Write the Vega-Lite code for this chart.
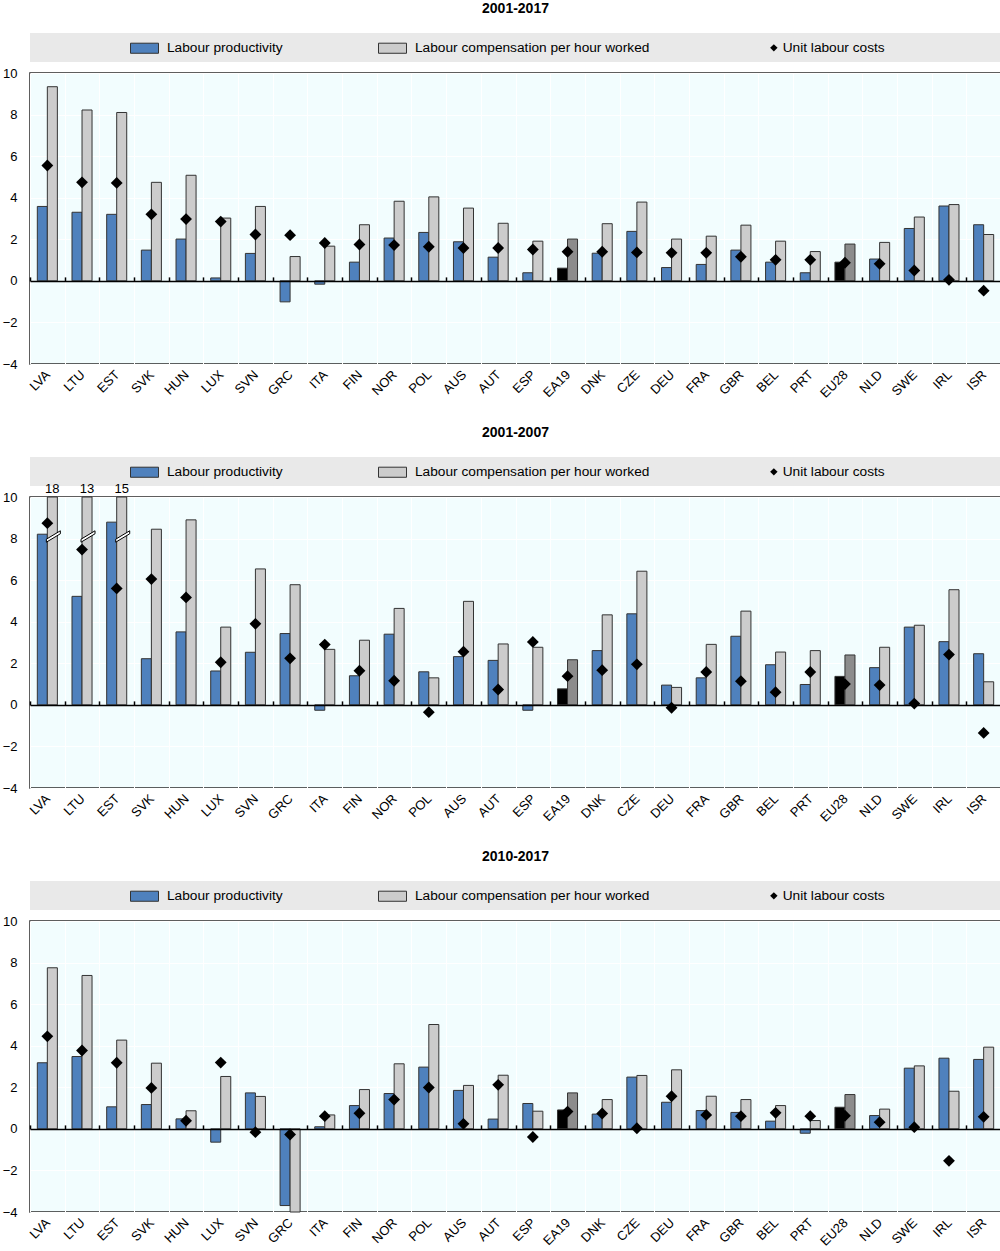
{
  "$schema": "https://vega.github.io/schema/vega-lite/v6.json",
  "padding": {"left": 1, "top": 2, "right": 0, "bottom": 0},
  "background": "#ffffff",
  "datasets": {
    "p1": [
      {"c":"LVA","lp":3.58,"lch":9.34,"ulc":5.55},{"c":"LTU","lp":3.30,"lch":8.22,"ulc":4.74},{"c":"EST","lp":3.20,"lch":8.10,"ulc":4.71},
      {"c":"SVK","lp":1.48,"lch":4.74,"ulc":3.20},{"c":"HUN","lp":2.01,"lch":5.08,"ulc":2.97},{"c":"LUX","lp":0.14,"lch":3.02,"ulc":2.85},
      {"c":"SVN","lp":1.32,"lch":3.58,"ulc":2.23},{"c":"GRC","lp":-1.01,"lch":1.17,"ulc":2.20},{"c":"ITA","lp":-0.16,"lch":1.67,"ulc":1.82},
      {"c":"FIN","lp":0.90,"lch":2.70,"ulc":1.75},{"c":"NOR","lp":2.06,"lch":3.83,"ulc":1.72},{"c":"POL","lp":2.33,"lch":4.04,"ulc":1.64},
      {"c":"AUS","lp":1.88,"lch":3.50,"ulc":1.58},{"c":"AUT","lp":1.14,"lch":2.77,"ulc":1.58},{"c":"ESP","lp":0.39,"lch":1.91,"ulc":1.51},
      {"c":"EA19","lp":0.61,"lch":2.01,"ulc":1.40},{"c":"DNK","lp":1.33,"lch":2.75,"ulc":1.40},{"c":"CZE","lp":2.38,"lch":3.79,"ulc":1.37},
      {"c":"DEU","lp":0.64,"lch":2.01,"ulc":1.35},{"c":"FRA","lp":0.79,"lch":2.15,"ulc":1.35},{"c":"GBR","lp":1.48,"lch":2.68,"ulc":1.16},
      {"c":"BEL","lp":0.90,"lch":1.91,"ulc":1.01},{"c":"PRT","lp":0.39,"lch":1.41,"ulc":1.01},{"c":"EU28","lp":0.90,"lch":1.77,"ulc":0.87},
      {"c":"NLD","lp":1.05,"lch":1.85,"ulc":0.82},{"c":"SWE","lp":2.52,"lch":3.07,"ulc":0.50},{"c":"IRL","lp":3.60,"lch":3.67,"ulc":0.05},
      {"c":"ISR","lp":2.70,"lch":2.23,"ulc":-0.47}
    ],
    "p2": [
      {"c":"LVA","lp":8.21,"lch":18,"ulc":8.74},{"c":"LTU","lp":5.22,"lch":13,"ulc":7.47},{"c":"EST","lp":8.79,"lch":15,"ulc":5.60},
      {"c":"SVK","lp":2.22,"lch":8.45,"ulc":6.05},{"c":"HUN","lp":3.51,"lch":8.90,"ulc":5.17},{"c":"LUX","lp":1.63,"lch":3.74,"ulc":2.05},
      {"c":"SVN","lp":2.53,"lch":6.54,"ulc":3.90},{"c":"GRC","lp":3.43,"lch":5.78,"ulc":2.24},{"c":"ITA","lp":-0.26,"lch":2.67,"ulc":2.90},
      {"c":"FIN","lp":1.40,"lch":3.11,"ulc":1.64},{"c":"NOR","lp":3.40,"lch":4.64,"ulc":1.16},{"c":"POL","lp":1.59,"lch":1.30,"ulc":-0.35},
      {"c":"AUS","lp":2.32,"lch":4.98,"ulc":2.56},{"c":"AUT","lp":2.14,"lch":2.93,"ulc":0.74},{"c":"ESP","lp":-0.26,"lch":2.77,"ulc":3.03},
      {"c":"EA19","lp":0.77,"lch":2.17,"ulc":1.38},{"c":"DNK","lp":2.61,"lch":4.33,"ulc":1.67},{"c":"CZE","lp":4.38,"lch":6.43,"ulc":1.95},
      {"c":"DEU","lp":0.95,"lch":0.84,"ulc":-0.14},{"c":"FRA","lp":1.30,"lch":2.91,"ulc":1.58},{"c":"GBR","lp":3.30,"lch":4.51,"ulc":1.14},
      {"c":"BEL","lp":1.93,"lch":2.54,"ulc":0.61},{"c":"PRT","lp":0.98,"lch":2.61,"ulc":1.58},{"c":"EU28","lp":1.37,"lch":2.40,"ulc":1.00},
      {"c":"NLD","lp":1.79,"lch":2.77,"ulc":0.95},{"c":"SWE","lp":3.74,"lch":3.83,"ulc":0.06},{"c":"IRL","lp":3.04,"lch":5.54,"ulc":2.42},
      {"c":"ISR","lp":2.46,"lch":1.11,"ulc":-1.35}
    ],
    "p3": [
      {"c":"LVA","lp":3.18,"lch":7.75,"ulc":4.45},{"c":"LTU","lp":3.48,"lch":7.38,"ulc":3.77},{"c":"EST","lp":1.06,"lch":4.27,"ulc":3.18},
      {"c":"SVK","lp":1.17,"lch":3.16,"ulc":1.97},{"c":"HUN","lp":0.48,"lch":0.87,"ulc":0.39},{"c":"LUX","lp":-0.64,"lch":2.52,"ulc":3.19},
      {"c":"SVN","lp":1.73,"lch":1.56,"ulc":-0.16},{"c":"GRC","lp":-3.69,"lch":-4.0,"ulc":-0.27},{"c":"ITA","lp":0.10,"lch":0.67,"ulc":0.61},
      {"c":"FIN","lp":1.12,"lch":1.89,"ulc":0.75},{"c":"NOR","lp":1.70,"lch":3.13,"ulc":1.41},{"c":"POL","lp":2.97,"lch":5.02,"ulc":1.99},
      {"c":"AUS","lp":1.85,"lch":2.09,"ulc":0.24},{"c":"AUT","lp":0.47,"lch":2.58,"ulc":2.12},{"c":"ESP","lp":1.22,"lch":0.85,"ulc":-0.39},
      {"c":"EA19","lp":0.91,"lch":1.73,"ulc":0.83},{"c":"DNK","lp":0.71,"lch":1.41,"ulc":0.74},{"c":"CZE","lp":2.49,"lch":2.57,"ulc":0.03},
      {"c":"DEU","lp":1.28,"lch":2.84,"ulc":1.57},{"c":"FRA","lp":0.88,"lch":1.57,"ulc":0.67},{"c":"GBR","lp":0.79,"lch":1.41,"ulc":0.61},
      {"c":"BEL","lp":0.37,"lch":1.12,"ulc":0.77},{"c":"PRT","lp":-0.21,"lch":0.40,"ulc":0.61},{"c":"EU28","lp":1.04,"lch":1.65,"ulc":0.63},
      {"c":"NLD","lp":0.64,"lch":0.95,"ulc":0.32},{"c":"SWE","lp":2.92,"lch":3.03,"ulc":0.08},{"c":"IRL","lp":3.40,"lch":1.81,"ulc":-1.54},
      {"c":"ISR","lp":3.34,"lch":3.93,"ulc":0.58}
    ]
  },
  "config": {
    "font": "Liberation Sans, Arial, sans-serif",
    "view": {"fill": "#f2fdfe", "stroke": "#2a2a2a", "strokeWidth": 1.5},
    "axis": {"labelFont": "Liberation Sans, Arial, sans-serif", "labelFontSize": 13, "labelColor": "#000000"},
    "legend": {"labelFont": "Liberation Sans, Arial, sans-serif", "labelFontSize": 13.7, "labelColor": "#000000", "labelLimit": 400},
    "title": {"font": "Liberation Sans, Arial, sans-serif", "fontSize": 14, "fontWeight": "bold", "color": "#000000", "anchor": "middle", "offset": 17}
  },
  "resolve": {"scale": {"color": "independent", "shape": "independent"}, "legend": {"color": "independent", "shape": "independent"}},
  "bounds": "full",
  "spacing": 25,
  "vconcat": [
    {
      "bounds": "flush", "spacing": 11,
      "resolve": {"scale": {"color": "independent", "shape": "independent"}, "legend": {"color": "independent", "shape": "independent"}},
      "vconcat": [
        {"title": "2001-2017", "width": 971, "height": 29, "view": {"fill": "#e9e9e9", "stroke": null}, "data": {"values": []}, "mark": "rect"},
        {
          "width": 971, "height": 291,
          "data": {"name": "p1"},
          "resolve": {"axis": {"x": "independent"}},
          "layer": [
            {
              "transform": [{"fold": ["lp", "lch"], "as": ["key", "v"]}],
              "mark": {"type": "bar", "stroke": "#333333", "strokeWidth": 1, "opacity": 1},
              "encoding": {
                "x": {"field": "c", "type": "nominal", "scale": {"domain": ["LVA","LTU","EST","SVK","HUN","LUX","SVN","GRC","ITA","FIN","NOR","POL","AUS","AUT","ESP","EA19","DNK","CZE","DEU","FRA","GBR","BEL","PRT","EU28","NLD","SWE","IRL","ISR"], "paddingInner": 0, "paddingOuter": 0},
                  "axis": {"title": null, "labelAngle": -45, "ticks": false, "domain": false, "grid": true, "gridColor": "#ffffff", "gridWidth": 1, "tickBand": "extent", "labelPadding": 4, "labelOffset": -4}},
                "xOffset": {"field": "key", "type": "nominal", "scale": {"domain": ["lp", "lch"], "paddingInner": 0, "paddingOuter": 0.73}},
                "y": {"field": "v", "type": "quantitative", "scale": {"domain": [-4, 10], "nice": false, "clamp": true},
                  "axis": {"title": null, "values": [-4,-2,0,2,4,6,8,10], "grid": true, "gridColor": "#ffffff", "gridWidth": 1, "domain": false, "ticks": false, "labelPadding": 13}},
                "color": {
                  "condition": [
                    {"test": "(datum.c=='EA19'||datum.c=='EU28')&&datum.key=='lp'", "value": "#000000"},
                    {"test": "datum.c=='EA19'||datum.c=='EU28'", "value": "#8c8c8c"}
                  ],
                  "field": "key", "type": "nominal",
                  "scale": {"domain": ["lp", "lch"], "range": ["#4f81bd", "#cccccc"]},
                  "legend": {"title": null, "orient": "none", "legendX": 100, "legendY": -39.5, "direction": "horizontal", "padding": 0, "columnPadding": 93, "labelOffset": 8, "symbolSize": 784, "symbolStrokeWidth": 1, "symbolType": "M-1,-0.36H1V0.36H-1Z",
                    "labelExpr": "datum.label=='lp'?'Labour productivity':'Labour compensation per hour worked'"}
                }
              }
            },
            {
              "transform": [{"fold": ["ulc"], "as": ["key", "v"]}],
              "mark": {"type": "point", "filled": true, "size": 140, "opacity": 1, "color": "#000000"},
              "encoding": {
                "x": {"field": "c", "type": "nominal", "axis": {"orient": "top", "offset": -207.9, "labels": false, "title": null, "grid": false, "domain": true, "domainColor": "#000000", "domainWidth": 1.5, "ticks": true, "tickBand": "extent", "tickSize": 4, "tickColor": "#000000", "tickWidth": 1.5, "zindex": 1}},
                "y": {"field": "v", "type": "quantitative"},
                "shape": {"field": "key", "type": "nominal", "scale": {"domain": ["ulc"], "range": ["diamond"]},
                  "legend": {"title": null, "orient": "none", "legendX": 737, "legendY": -32, "padding": 0, "labelOffset": 2, "symbolSize": 55,
                    "labelExpr": "'Unit labour costs'"}}
              }
            }
          ]
        }
      ]
    },
    {
      "bounds": "flush", "spacing": 11,
      "resolve": {"scale": {"color": "independent", "shape": "independent"}, "legend": {"color": "independent", "shape": "independent"}},
      "vconcat": [
        {"title": "2001-2007", "width": 971, "height": 29, "view": {"fill": "#e9e9e9", "stroke": null}, "data": {"values": []}, "mark": "rect"},
        {
          "width": 971, "height": 291,
          "data": {"name": "p2"},
          "resolve": {"axis": {"x": "independent"}},
          "layer": [
            {
              "transform": [{"fold": ["lp", "lch"], "as": ["key", "v"]}],
              "mark": {"type": "bar", "stroke": "#333333", "strokeWidth": 1, "opacity": 1},
              "encoding": {
                "x": {"field": "c", "type": "nominal", "scale": {"domain": ["LVA","LTU","EST","SVK","HUN","LUX","SVN","GRC","ITA","FIN","NOR","POL","AUS","AUT","ESP","EA19","DNK","CZE","DEU","FRA","GBR","BEL","PRT","EU28","NLD","SWE","IRL","ISR"], "paddingInner": 0, "paddingOuter": 0},
                  "axis": {"title": null, "labelAngle": -45, "ticks": false, "domain": false, "grid": true, "gridColor": "#ffffff", "gridWidth": 1, "tickBand": "extent", "labelPadding": 4, "labelOffset": -4}},
                "xOffset": {"field": "key", "type": "nominal", "scale": {"domain": ["lp", "lch"], "paddingInner": 0, "paddingOuter": 0.73}},
                "y": {"field": "v", "type": "quantitative", "scale": {"domain": [-4, 10], "nice": false, "clamp": true},
                  "axis": {"title": null, "values": [-4,-2,0,2,4,6,8,10], "grid": true, "gridColor": "#ffffff", "gridWidth": 1, "domain": false, "ticks": false, "labelPadding": 13}},
                "color": {
                  "condition": [
                    {"test": "(datum.c=='EA19'||datum.c=='EU28')&&datum.key=='lp'", "value": "#000000"},
                    {"test": "datum.c=='EA19'||datum.c=='EU28'", "value": "#8c8c8c"}
                  ],
                  "field": "key", "type": "nominal",
                  "scale": {"domain": ["lp", "lch"], "range": ["#4f81bd", "#cccccc"]},
                  "legend": {"title": null, "orient": "none", "legendX": 100, "legendY": -39.5, "direction": "horizontal", "padding": 0, "columnPadding": 93, "labelOffset": 8, "symbolSize": 784, "symbolStrokeWidth": 1, "symbolType": "M-1,-0.36H1V0.36H-1Z",
                    "labelExpr": "datum.label=='lp'?'Labour productivity':'Labour compensation per hour worked'"}
                }
              }
            },
            {
              "transform": [{"filter": "datum.lch > 10"}],
              "mark": {"type": "point", "shape": "M-0.6,0.27L0.8,-0.57L0.8,-0.27L-0.6,0.57Z", "size": 400, "filled": true, "fill": "#ffffff", "stroke": "#000000", "strokeWidth": 1, "opacity": 1},
              "encoding": {
                "x": {"field": "c", "type": "nominal", "axis": null},
                "xOffset": {"datum": "lch", "type": "nominal"},
                "y": {"datum": 8.1, "type": "quantitative"}
              }
            },
            {
              "transform": [{"filter": "datum.lch > 10"}],
              "mark": {"type": "text", "baseline": "bottom", "dy": -1, "fontSize": 13, "font": "Liberation Sans, Arial, sans-serif", "color": "#000000"},
              "encoding": {
                "x": {"field": "c", "type": "nominal", "axis": null},
                "xOffset": {"datum": "lch", "type": "nominal"},
                "y": {"field": "lch", "type": "quantitative"},
                "text": {"field": "lch", "type": "quantitative"}
              }
            },
            {
              "transform": [{"fold": ["ulc"], "as": ["key", "v"]}],
              "mark": {"type": "point", "filled": true, "size": 140, "opacity": 1, "color": "#000000"},
              "encoding": {
                "x": {"field": "c", "type": "nominal", "axis": {"orient": "top", "offset": -207.9, "labels": false, "title": null, "grid": false, "domain": true, "domainColor": "#000000", "domainWidth": 1.5, "ticks": true, "tickBand": "extent", "tickSize": 4, "tickColor": "#000000", "tickWidth": 1.5, "zindex": 1}},
                "y": {"field": "v", "type": "quantitative"},
                "shape": {"field": "key", "type": "nominal", "scale": {"domain": ["ulc"], "range": ["diamond"]},
                  "legend": {"title": null, "orient": "none", "legendX": 737, "legendY": -32, "padding": 0, "labelOffset": 2, "symbolSize": 55,
                    "labelExpr": "'Unit labour costs'"}}
              }
            }
          ]
        }
      ]
    },
    {
      "bounds": "flush", "spacing": 11,
      "resolve": {"scale": {"color": "independent", "shape": "independent"}, "legend": {"color": "independent", "shape": "independent"}},
      "vconcat": [
        {"title": "2010-2017", "width": 971, "height": 29, "view": {"fill": "#e9e9e9", "stroke": null}, "data": {"values": []}, "mark": "rect"},
        {
          "width": 971, "height": 291,
          "data": {"name": "p3"},
          "resolve": {"axis": {"x": "independent"}},
          "layer": [
            {
              "transform": [{"fold": ["lp", "lch"], "as": ["key", "v"]}],
              "mark": {"type": "bar", "stroke": "#333333", "strokeWidth": 1, "opacity": 1},
              "encoding": {
                "x": {"field": "c", "type": "nominal", "scale": {"domain": ["LVA","LTU","EST","SVK","HUN","LUX","SVN","GRC","ITA","FIN","NOR","POL","AUS","AUT","ESP","EA19","DNK","CZE","DEU","FRA","GBR","BEL","PRT","EU28","NLD","SWE","IRL","ISR"], "paddingInner": 0, "paddingOuter": 0},
                  "axis": {"title": null, "labelAngle": -45, "ticks": false, "domain": false, "grid": true, "gridColor": "#ffffff", "gridWidth": 1, "tickBand": "extent", "labelPadding": 4, "labelOffset": -4}},
                "xOffset": {"field": "key", "type": "nominal", "scale": {"domain": ["lp", "lch"], "paddingInner": 0, "paddingOuter": 0.73}},
                "y": {"field": "v", "type": "quantitative", "scale": {"domain": [-4, 10], "nice": false, "clamp": true},
                  "axis": {"title": null, "values": [-4,-2,0,2,4,6,8,10], "grid": true, "gridColor": "#ffffff", "gridWidth": 1, "domain": false, "ticks": false, "labelPadding": 13}},
                "color": {
                  "condition": [
                    {"test": "(datum.c=='EA19'||datum.c=='EU28')&&datum.key=='lp'", "value": "#000000"},
                    {"test": "datum.c=='EA19'||datum.c=='EU28'", "value": "#8c8c8c"}
                  ],
                  "field": "key", "type": "nominal",
                  "scale": {"domain": ["lp", "lch"], "range": ["#4f81bd", "#cccccc"]},
                  "legend": {"title": null, "orient": "none", "legendX": 100, "legendY": -39.5, "direction": "horizontal", "padding": 0, "columnPadding": 93, "labelOffset": 8, "symbolSize": 784, "symbolStrokeWidth": 1, "symbolType": "M-1,-0.36H1V0.36H-1Z",
                    "labelExpr": "datum.label=='lp'?'Labour productivity':'Labour compensation per hour worked'"}
                }
              }
            },
            {
              "transform": [{"fold": ["ulc"], "as": ["key", "v"]}],
              "mark": {"type": "point", "filled": true, "size": 140, "opacity": 1, "color": "#000000"},
              "encoding": {
                "x": {"field": "c", "type": "nominal", "axis": {"orient": "top", "offset": -207.9, "labels": false, "title": null, "grid": false, "domain": true, "domainColor": "#000000", "domainWidth": 1.5, "ticks": true, "tickBand": "extent", "tickSize": 4, "tickColor": "#000000", "tickWidth": 1.5, "zindex": 1}},
                "y": {"field": "v", "type": "quantitative"},
                "shape": {"field": "key", "type": "nominal", "scale": {"domain": ["ulc"], "range": ["diamond"]},
                  "legend": {"title": null, "orient": "none", "legendX": 737, "legendY": -32, "padding": 0, "labelOffset": 2, "symbolSize": 55,
                    "labelExpr": "'Unit labour costs'"}}
              }
            }
          ]
        }
      ]
    }
  ]
}
